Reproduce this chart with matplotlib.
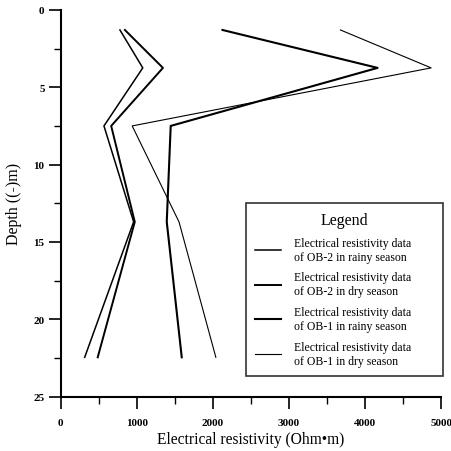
import matplotlib
matplotlib.use("Agg")
import matplotlib.pyplot as plt

# depth (m) of each measurement, resistivity in Ohm.m
depth = [1.3, 3.75, 7.5, 13.7, 22.45]
ob2_rainy = [780, 1080, 570, 960, 317]
ob2_dry = [845, 1345, 665, 975, 488]
ob1_rainy = [2127, 4165, 1447, 1395, 1592]
ob1_dry = [3677, 4868, 941, 1556, 2040]

labels = ["Electrical resistivity data\nof OB-2 in rainy season",
          "Electrical resistivity data\nof OB-2 in dry season",
          "Electrical resistivity data\nof OB-1 in rainy season",
          "Electrical resistivity data\nof OB-1 in dry season"]
series = [ob2_rainy, ob2_dry, ob1_rainy, ob1_dry]
widths = [1.1, 1.4, 1.5, 0.8]

plt.rcParams["font.family"] = ["Liberation Serif", "DejaVu Serif"]
fig = plt.figure(figsize=(4.52, 4.52), dpi=100)
ax = fig.add_axes([0.134, 0.120, 0.842, 0.856])
for s, lab, lw in zip(series, labels, widths):
    ax.plot(s, depth, color="black", lw=lw, label=lab)

ax.set_xlim(0, 5000)
ax.set_ylim(25, 0)
ax.set_xticks(range(0, 5001, 1000))
ax.set_xticks(range(500, 5000, 1000), minor=True)
ax.set_yticks(range(0, 26, 5))
ax.set_yticks([2.5, 7.5, 12.5, 17.5, 22.5], minor=True)
for sp in ["top", "right"]:
    ax.spines[sp].set_visible(False)
for sp in ["left", "bottom"]:
    ax.spines[sp].set_linewidth(1.5)
ax.tick_params(which="major", length=8.5, width=1.2, labelsize=8)
ax.tick_params(which="minor", length=5, width=1.0)
ax.tick_params(axis="x", which="major", pad=6.5)
ax.tick_params(axis="y", which="major", pad=3)
for t in ax.get_xticklabels() + ax.get_yticklabels():
    t.set_fontweight("bold")
ax.set_xlabel("Electrical resistivity (Ohm\u2022m)", fontsize=11.2, labelpad=3)
ax.set_ylabel("Depth ((-)m)", fontsize=11.5, labelpad=8)

leg = ax.legend(loc="upper left", bbox_to_anchor=(0.486, 0.061, 0.52, 0.441),
                mode="expand", borderaxespad=0, title="Legend", fontsize=8.5,
                title_fontsize=11.5, frameon=True, fancybox=False,
                edgecolor="black", handlelength=2.2, labelspacing=0.75,
                borderpad=0.8, handletextpad=1.1)
leg.get_frame().set_linewidth(1.2)

fig.savefig("out.png", dpi=100)
